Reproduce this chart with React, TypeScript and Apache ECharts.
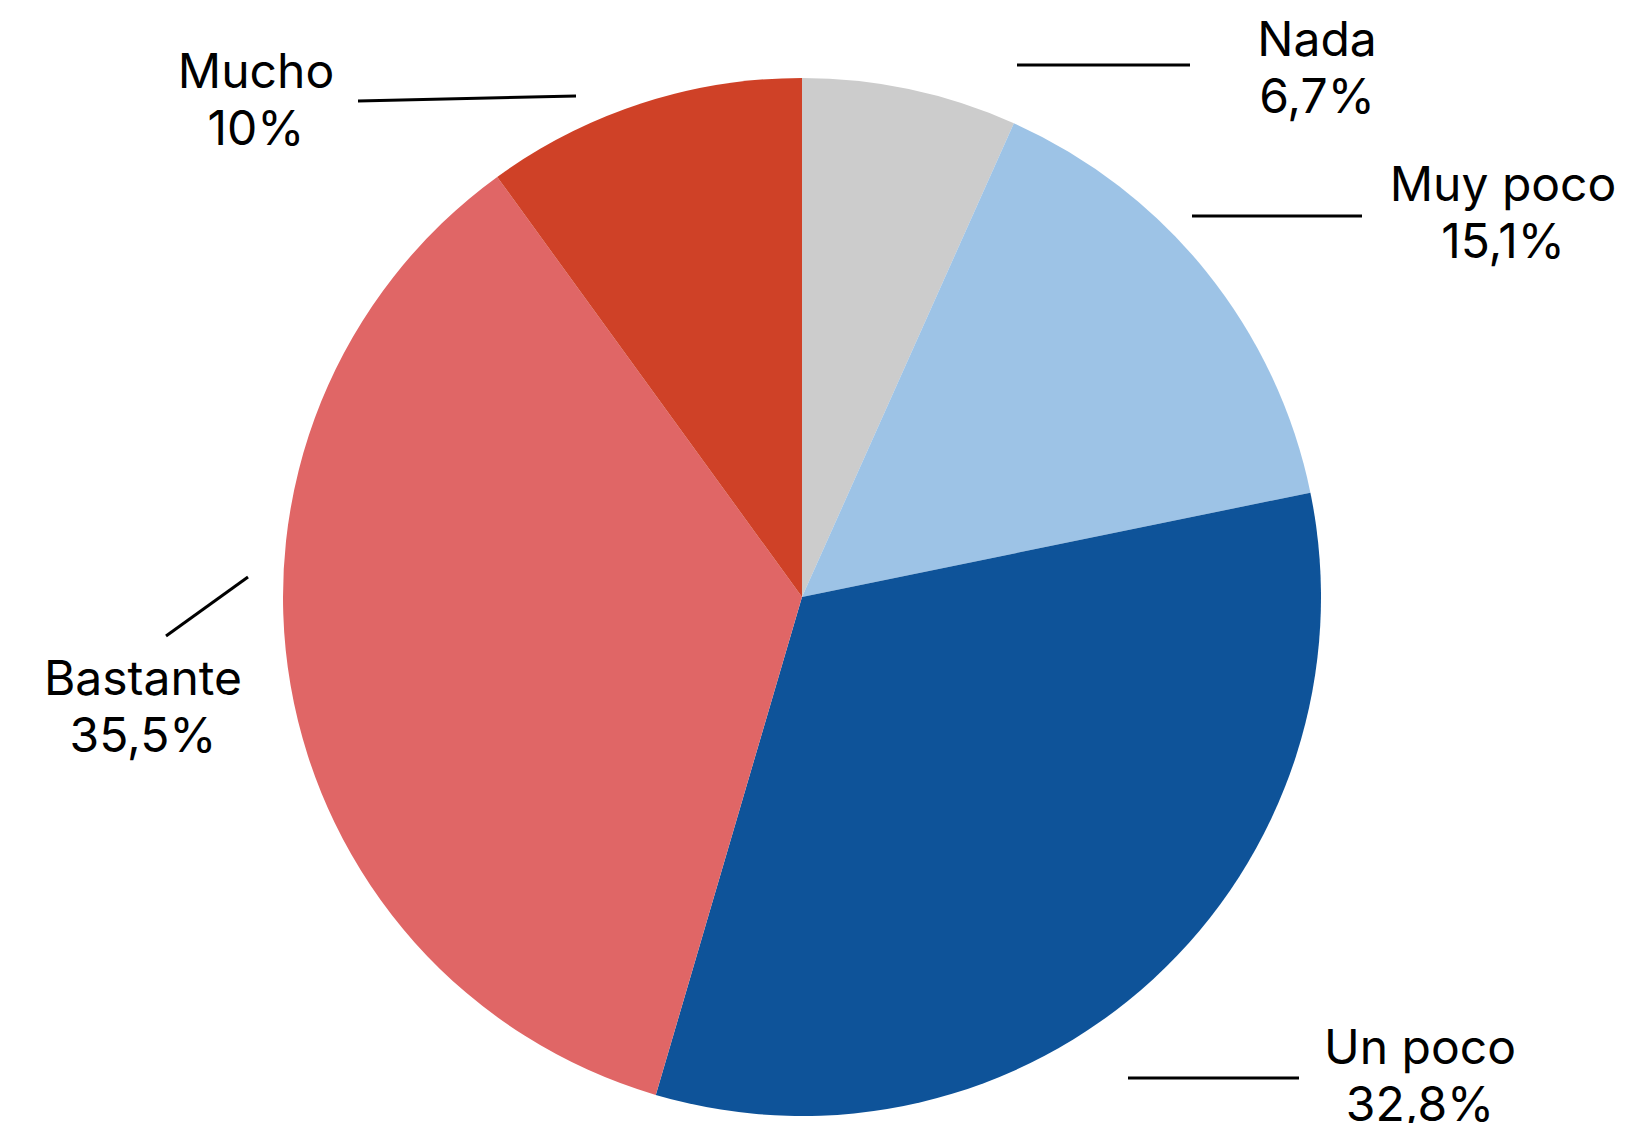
import React, { useEffect, useRef } from "react";
import * as echarts from "echarts";

const categories = ["Nada", "Muy poco", "Un poco", "Bastante", "Mucho"];
const values = [6.7, 15.1, 32.8, 35.5, 10];
const colors = ["#cccccc", "#9dc3e6", "#0e5399", "#e06666", "#cf4127"];

// label block centres (layout only)
const labelPos: [number, number][] = [
  [1317, 67],
  [1503, 212],
  [1420, 1075],
  [143, 706],
  [256, 99],
];
// leader lines (layout only)
const leaderLines: [number, number, number, number][] = [
  [1017, 65, 1190, 65],
  [1192, 216, 1362, 216],
  [1128, 1078, 1299, 1078],
  [166, 636, 248, 577],
  [358, 101, 576, 96],
];

const fmt = (v: number) => v.toString().replace(".", ",");

export default function App() {
  const ref = useRef<HTMLDivElement>(null);
  useEffect(() => {
    if (!ref.current) return;
    const chart = echarts.init(ref.current, undefined, { renderer: "svg" });
    chart.setOption({
      animation: false,
      backgroundColor: "#ffffff",
      series: [
        {
          type: "pie",
          center: [802, 597],
          radius: 519,
          startAngle: 90,
          clockwise: true,
          data: categories.map((c, i) => ({
            name: c,
            value: values[i],
            itemStyle: { color: colors[i] },
          })),
          label: {
            show: true,
            position: "outside",
            formatter: (p: any) => `${p.name}\n${fmt(p.value)}%`,
            fontFamily: "Inter, 'Noto Sans', sans-serif",
            fontSize: 48,
            lineHeight: 57,
            color: "#000000",
            align: "center",
          },
          labelLine: { show: false },
          labelLayout: (p: any) => ({
            x: labelPos[p.dataIndex][0],
            y: labelPos[p.dataIndex][1],
            align: "center",
            verticalAlign: "middle",
          }),
          emphasis: { disabled: true },
        },
      ],
      graphic: leaderLines.map((l) => ({
        type: "line",
        shape: { x1: l[0], y1: l[1], x2: l[2], y2: l[3] },
        style: { stroke: "#000000", lineWidth: 3 },
      })),
    });
    return () => chart.dispose();
  }, []);
  return (
    <div
      ref={ref}
      style={{ position: "absolute", left: 0, top: 0, width: 1649, height: 1123 }}
    />
  );
}
